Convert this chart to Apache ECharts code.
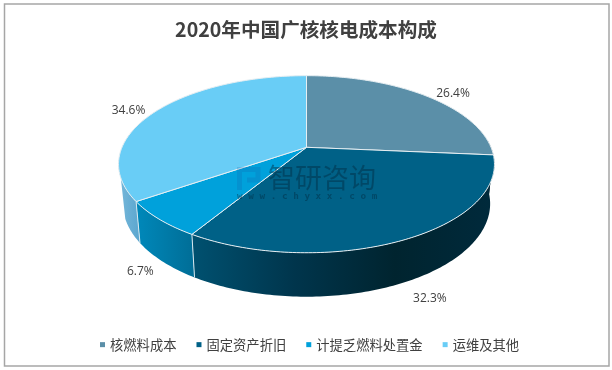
<!DOCTYPE html>
<html><head><meta charset="utf-8">
<style>html,body{margin:0;padding:0;background:#fff}#c{width:612px;height:370px}</style>
<script src="https://cdn.jsdelivr.net/npm/echarts@6/dist/echarts.min.js"></script>
</head><body><div id="c"></div>
<script>
const titleText = '2020年中国广核核电成本构成';
const categories = ['核燃料成本', '固定资产折旧', '计提乏燃料处置金', '运维及其他'];
const shares = [26.4, 32.3, 6.7, 34.6];
const topColors = ['#5b8fa8', '#006187', '#00a1db', '#69cdf6'];
const sideStops = [
  ['#00232f', '#00232f'],
  ['#00506f', '#00354c', '#00242f', '#002a3c'],
  ['#0089bb', '#006d96'],
  ['#78b8da', '#5aa6cf']
];
const sideRanges = [[120, 195], [195, 495], [135, 195], [118, 140]];
const labelNudges = [[26, -3], [23, 60], [-19, 52], [-28, 0]];

// perspective view of the pie's rim
const view = {cx: 306.5, hubY: 147.3, rx: 184.5, ry: 85.3, k: 0.191, baseHubY: 186, baseSx: 0.977, baseSy: 1.05};
function rimTop(deg) {
  const t = deg * Math.PI / 180, x = Math.sin(t), y = -Math.cos(t), d = 1 - view.k * y;
  return [view.cx + view.rx * x / d, view.hubY + view.ry * y / d];
}
function rimBase(deg) {
  const p = rimTop(deg);
  return [view.cx + (p[0] - view.cx) * view.baseSx, view.baseHubY + (p[1] - view.hubY) * view.baseSy];
}
function arc(fn, a, b) {
  const pts = [];
  const n = Math.max(2, Math.ceil(Math.abs(b - a)));
  for (let i = 0; i <= n; i++) pts.push(fn(a + (b - a) * i / n));
  return pts;
}
const total = shares.reduce((s, v) => s + v, 0);

function makeSeries(name, idx) {
  const before = shares.slice(0, idx).reduce((s, v) => s + v, 0);
  return {
    type: 'custom', name, coordinateSystem: 'none', silent: true,
    itemStyle: {color: topColors[idx]},
    data: [[shares[idx]]],
    renderItem(params, api) {
      const v = api.value(0);
      const a = before / total * 360, b = (before + v) / total * 360;
      const children = [];
      const sa = Math.max(a, 85), sbTop = Math.min(b, 262), sbBase = Math.min(b, 250);
      if (sbTop > sa) {
        const stops = sideStops[idx];
        const grad = new echarts.graphic.LinearGradient(sideRanges[idx][0], 0, sideRanges[idx][1], 0,
          stops.map((c, i) => ({offset: i / (stops.length - 1), color: c})), true);
        children.push({type: 'polygon', z2: 1,
          shape: {points: arc(rimTop, sa, sbTop).concat(arc(rimBase, sbBase, sa))},
          style: {fill: grad}});
      }
      if (a > 100 && a < 262) {
        children.push({type: 'polyline', z2: 2,
          shape: {points: [rimTop(a), rimBase(a)]},
          style: {fill: 'none', stroke: '#d8e8ef', lineWidth: 1}});
      }
      children.push({type: 'polygon', z2: 10,
        shape: {points: [rimTop(a)].concat(arc(rimTop, a, b), [[view.cx, view.hubY]])},
        style: {fill: topColors[idx], stroke: '#e6eef2', lineWidth: 1, lineJoin: 'round'}});
      const m = rimTop((a + b) / 2);
      children.push({type: 'text', z2: 20,
        x: m[0] + labelNudges[idx][0], y: m[1] + labelNudges[idx][1],
        style: {text: v.toFixed(1) + '%', fill: '#404040', align: 'center', verticalAlign: 'middle',
          font: '12px "Open Sans", "Noto Sans", sans-serif'}});
      return {type: 'group', children};
    }
  };
}

const wm = 'rgba(0,45,70,0.48)';
const chart = echarts.init(document.getElementById('c'), null, {renderer: 'canvas'});
chart.setOption({
  animation: false,
  backgroundColor: '#fff',
  title: {
    text: titleText, left: 'center', top: 15,
    textStyle: {fontFamily: '"Noto Sans CJK SC"', fontSize: 19.6, fontWeight: 'bold', color: '#404040'}
  },
  legend: {
    left: 95, top: 333, itemWidth: 5, itemHeight: 5, itemGap: 20, icon: 'rect',
    textStyle: {fontFamily: '"Noto Sans CJK SC"', fontSize: 13.3, color: '#404040', padding: [0, 0, 0, 0]},
    data: categories
  },
  series: categories.map(makeSeries),
  graphic: [
    {type: 'rect', z: 0, shape: {x: 4.5, y: 4, width: 604.5, height: 362}, style: {fill: 'none', stroke: '#a6a6a6', lineWidth: 1.5}},
    {type: 'polyline', z: 50, shape: {points: [[239.5, 190], [239.5, 169.5], [258, 169.5], [258, 180], [247, 180]]},
      style: {fill: 'none', stroke: 'rgba(20,95,170,0.22)', lineWidth: 5}},
    {type: 'text', z: 50, x: 268, y: 164, style: {text: '智研咨询', fill: wm, font: '27px "Noto Sans CJK SC"'}},
    {type: 'text', z: 50, x: 237, y: 192, style: {text: 'w w w . c h y x x . c o m', fill: wm, font: 'bold 9.33px "DejaVu Sans Mono"'}}
  ]
});
</script></body></html>
